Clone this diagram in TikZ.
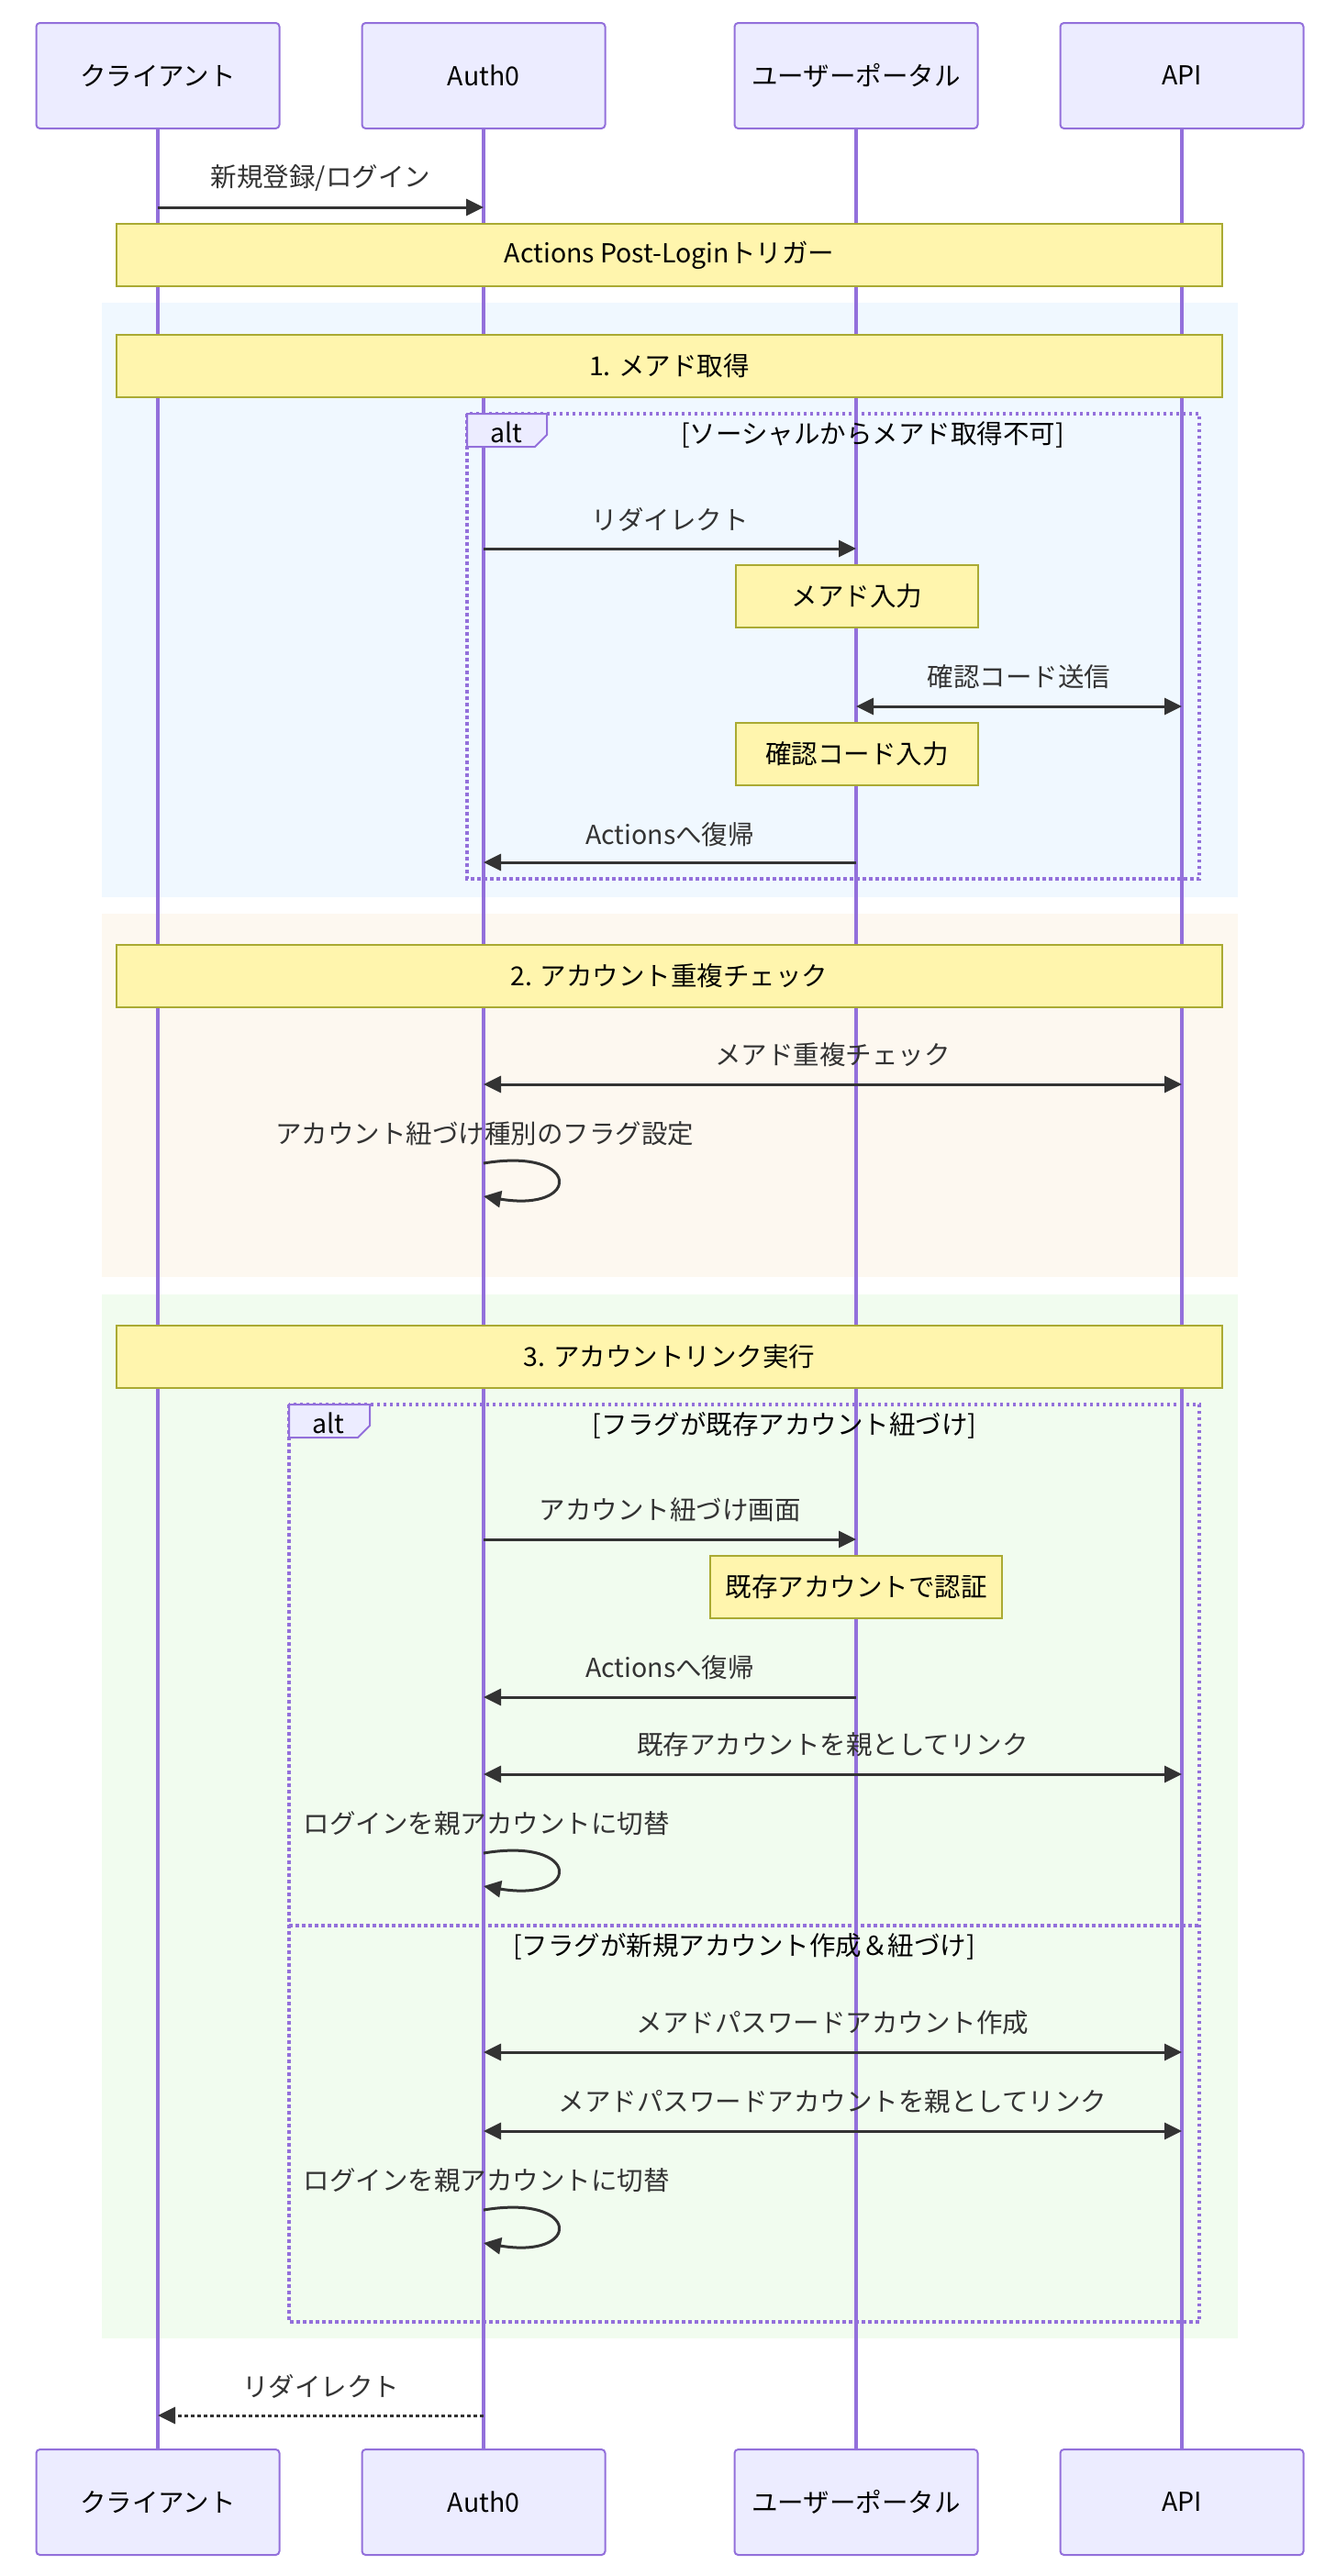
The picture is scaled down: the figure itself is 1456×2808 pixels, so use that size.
\documentclass[tikz,border=0pt]{standalone}
\usepackage{fontspec}
\setmainfont{Noto Sans CJK JP}
\usetikzlibrary{arrows.meta,calc}
\definecolor{actorfill}{HTML}{ECECFF}
\definecolor{actorline}{HTML}{9370DB}
\definecolor{notefill}{HTML}{FFF5AD}
\definecolor{noteline}{HTML}{AAAA33}
\definecolor{msgline}{HTML}{333333}
\definecolor{bgblue}{HTML}{F0F8FF}
\definecolor{bgorange}{HTML}{FDF8F0}
\definecolor{bggreen}{HTML}{F1FCEF}
\begin{document}
\begin{tikzpicture}[x=1pt,y=-1pt,
  every node/.style={font=\fontsize{28.5}{33}\selectfont},
  actor/.style={draw=actorline, line width=2pt, fill=actorfill, rounded corners=4pt, minimum width=265pt, minimum height=115pt, inner sep=0pt, text=black},
  life/.style={draw=actorline, line width=4pt},
  notebox/.style={draw=noteline, line width=2pt, fill=notefill, inner sep=0pt, text=black},
  msg/.style={draw=msgline, line width=3pt, -{Triangle[length=19pt,width=18pt]}},
  bimsg/.style={draw=msgline, line width=3pt, {Triangle[length=19pt,width=18pt]}-{Triangle[length=19pt,width=18pt]}},
  retmsg/.style={draw=msgline, line width=3pt, dash pattern=on 4pt off 3pt, -{Triangle[length=19pt,width=18pt]}},
  mlabel/.style={text=msgline, inner sep=0pt},
  altframe/.style={draw=actorline, line width=3.5pt, dash pattern=on 3.5pt off 3.5pt},
  alttab/.style={draw=actorline, line width=2pt, fill=actorfill},
  cond/.style={text=black, inner sep=0pt}
]
\useasboundingbox (0,0) rectangle (1456,2808);
\fill[white] (0,0) rectangle (1456,2808);

% actors
\node[actor] (c) at (172,82.5) {クライアント};
\node[actor] (a) at (527,82.5) {Auth0};
\node[actor] (p) at (933,82.5) {ユーザーポータル};
\node[actor] (i) at (1288,82.5) {API};
\node[actor] (cb) at (172,2727.5) {クライアント};
\node[actor] (ab) at (527,2727.5) {Auth0};
\node[actor] (pb) at (933,2727.5) {ユーザーポータル};
\node[actor] (ib) at (1288,2727.5) {API};

% background rects
\fill[bgblue] (111,330) rectangle (1349,978);
\fill[bgorange] (111,996) rectangle (1349,1392);
\fill[bggreen] (111,1411) rectangle (1349,2549);

% lifelines
\draw[life] (c.south) -- (cb.north);
\draw[life] (a.south) -- (ab.north);
\draw[life] (p.south) -- (pb.north);
\draw[life] (i.south) -- (ib.north);

% alt frames
\draw[altframe] (509,451) rectangle (1307,958);
\draw[alttab] (509,451) -- (596,451) -- (596,474) -- (583,487) -- (509,487) -- cycle;
\node[cond] (alt1) at (552,471) {alt};
\node[cond] (cond1) at (951,474) {[ソーシャルからメアド取得不可]};

\draw[altframe] (315,1531) rectangle (1307,2531);
\draw[altframe] (315,2099) -- (1307,2099);
\draw[alttab] (315,1531) -- (403,1531) -- (403,1554) -- (390,1567) -- (315,1567) -- cycle;
\node[cond] (alt2) at (358,1551) {alt};
\node[cond] (cond2) at (855,1554) {[フラグが既存アカウント紐づけ]};
\node[cond] (cond3) at (811,2122) {[フラグが新規アカウント作成＆紐づけ]};

% notes
\node[notebox, minimum width=1205pt, minimum height=68pt] (n0) at (729.5,278) {Actions Post-Loginトリガー};
\node[notebox, minimum width=1205pt, minimum height=68pt] (n1) at (729.5,399) {1. メアド取得};
\node[notebox, minimum width=264pt, minimum height=68pt] (n2) at (934,650) {メアド入力};
\node[notebox, minimum width=264pt, minimum height=68pt] (n3) at (934,822) {確認コード入力};
\node[notebox, minimum width=1205pt, minimum height=68pt] (n4) at (729.5,1064) {2. アカウント重複チェック};
\node[notebox, minimum width=1205pt, minimum height=68pt] (n5) at (729.5,1479) {3. アカウントリンク実行};
\node[notebox, minimum width=318pt, minimum height=68pt] (n6) at (933,1730) {既存アカウントで認証};

% messages
\node[mlabel] (m1) at (349.5,194) {新規登録/ログイン};
\draw[msg] (c |- 0,226) -- (a |- 0,226);

\node[mlabel] (m2) at (730,566) {リダイレクト};
\draw[msg] (a |- 0,598) -- (p |- 0,598);

\node[mlabel] (m3) at (1110.5,738) {確認コード送信};
\draw[bimsg] (p |- 0,770) -- (i |- 0,770);

\node[mlabel] (m4) at (730,910) {Actionsへ復帰};
\draw[msg] (p |- 0,940) -- (a |- 0,940);

\node[mlabel] (m5) at (907.5,1150) {メアド重複チェック};
\draw[bimsg] (a |- 0,1182) -- (i |- 0,1182);

\node[mlabel] (m6) at (528,1236) {アカウント紐づけ種別のフラグ設定};
\coordinate (l1) at (a |- 0,1268);
\draw[msg] (l1) .. controls ($(l1)+(107,-18)$) and ($(l1)+(107,54)$) .. ($(l1)+(0,36)$);

\node[mlabel] (m7) at (730,1646) {アカウント紐づけ画面};
\draw[msg] (a |- 0,1678) -- (p |- 0,1678);

\node[mlabel] (m8) at (730,1818) {Actionsへ復帰};
\draw[msg] (p |- 0,1850) -- (a |- 0,1850);

\node[mlabel] (m9) at (907.5,1902) {既存アカウントを親としてリンク};
\draw[bimsg] (a |- 0,1934) -- (i |- 0,1934);

\node[mlabel] (m10) at (530,1988) {ログインを親アカウントに切替};
\coordinate (l2) at (a |- 0,2020);
\draw[msg] (l2) .. controls ($(l2)+(107,-18)$) and ($(l2)+(107,54)$) .. ($(l2)+(0,36)$);

\node[mlabel] (m11) at (907.5,2205) {メアドパスワードアカウント作成};
\draw[bimsg] (a |- 0,2237) -- (i |- 0,2237);

\node[mlabel] (m12) at (907.5,2291) {メアドパスワードアカウントを親としてリンク};
\draw[bimsg] (a |- 0,2323) -- (i |- 0,2323);

\node[mlabel] (m13) at (530,2377) {ログインを親アカウントに切替};
\coordinate (l3) at (a |- 0,2409);
\draw[msg] (l3) .. controls ($(l3)+(107,-18)$) and ($(l3)+(107,54)$) .. ($(l3)+(0,36)$);

\node[mlabel] (m14) at (349.5,2601) {リダイレクト};
\draw[retmsg] (a |- 0,2633) -- (c |- 0,2633);
\end{tikzpicture}
\end{document}
